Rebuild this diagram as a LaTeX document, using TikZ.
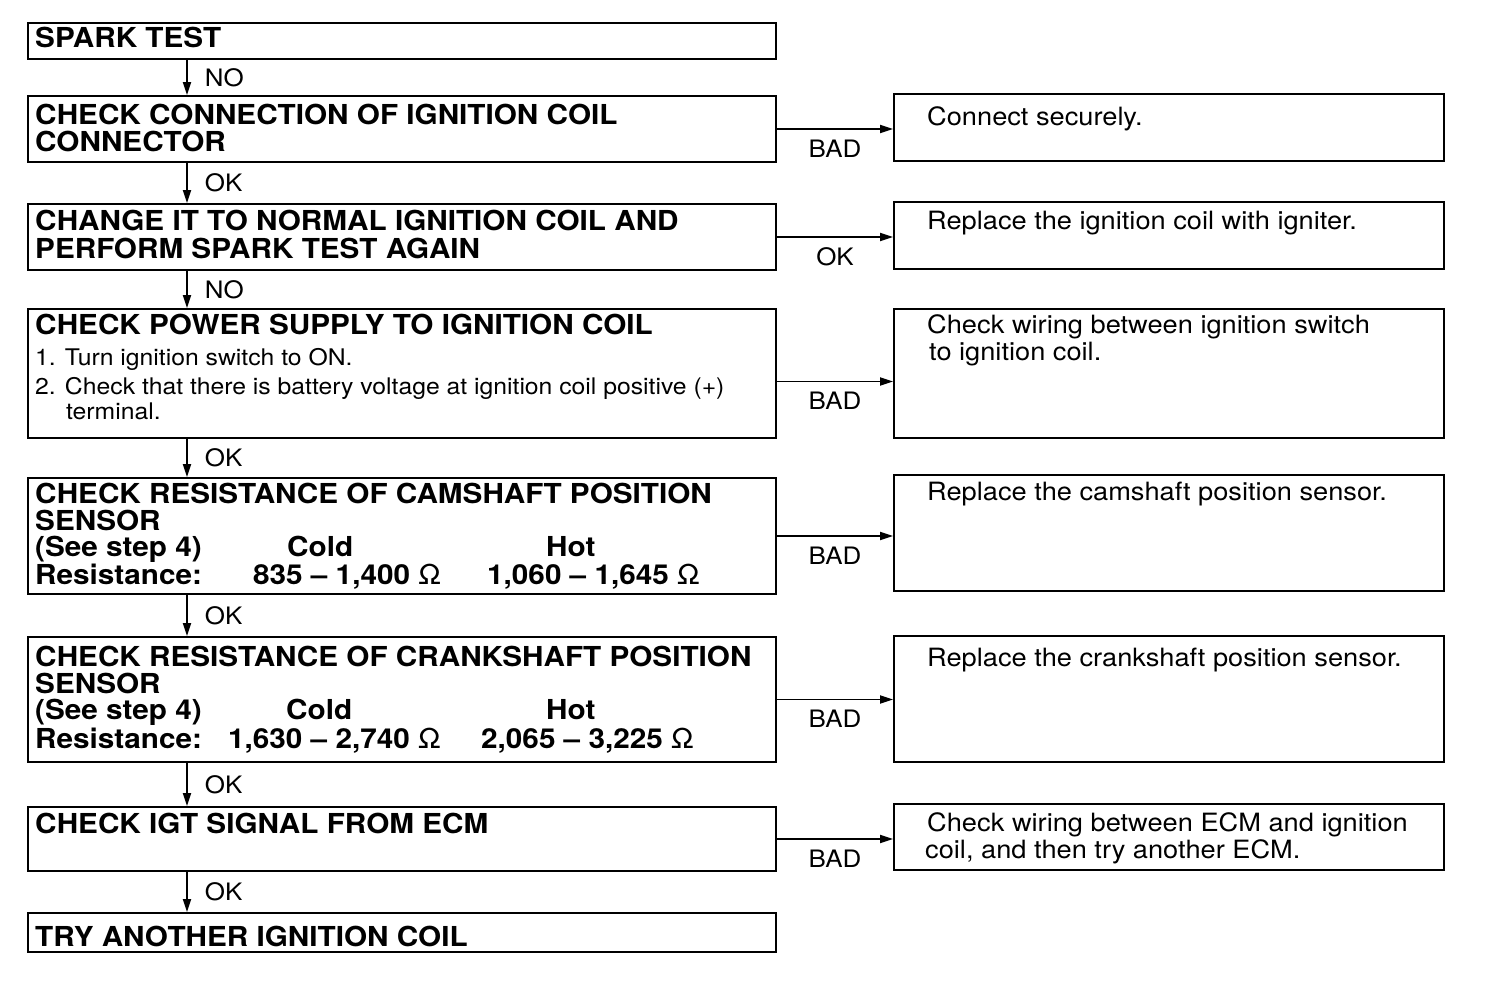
\documentclass[tikz,border=0pt]{standalone}
\usepackage{fontspec}
\setmainfont{TeX Gyre Heros}[FakeStretch=1.08]
\usetikzlibrary{arrows.meta}

\newcommand{\hdfont}{\fontsize{27.5}{28}\selectfont\bfseries}
\newcommand{\stfont}{\fontsize{22.9}{29}\selectfont}
\newcommand{\fixfont}{\fontsize{25.2}{27}\selectfont}
\newcommand{\tagfont}{\fontsize{24}{24}\selectfont}

\begin{document}
\begin{tikzpicture}[x=1pt, y=-1pt, >={Triangle[length=13pt,width=8pt]},
    lbox/.style={draw, line width=2pt, anchor=north west, inner sep=0pt, minimum width=748pt},
    rbox/.style={draw, line width=2pt, anchor=north west, inner sep=0pt, minimum width=550pt},
    head/.style={anchor=base west, inner sep=0pt, font=\hdfont},
    item/.style={anchor=base west, inner sep=0pt, font=\stfont},
    fix/.style={anchor=base west, inner sep=0pt, font=\fixfont},
    tag/.style={inner sep=0pt, font=\tagfont},
    link/.style={->, line width=1.8pt}]
    \useasboundingbox[fill=white] (0,0) rectangle (1504,982);
    \coordinate (spine) at (187,0);

    % main column
    \node[lbox, minimum height=36pt]  (b1) at (27,22)  {};
    \node[lbox, minimum height=66pt]  (b2) at (27,95)  {};
    \node[lbox, minimum height=66pt]  (b3) at (27,203) {};
    \node[lbox, minimum height=129pt] (b4) at (27,308) {};
    \node[lbox, minimum height=116pt] (b5) at (27,477) {};
    \node[lbox, minimum height=125pt] (b6) at (27,636) {};
    \node[lbox, minimum height=64pt]  (b7) at (27,806) {};
    \node[lbox, minimum height=39pt]  (b8) at (27,912) {};

    \node[head] (b1t) at (35,48) {SPARK TEST};
    \node[head] (b2t) at (35,124) {CHECK CONNECTION OF IGNITION COIL};
    \node[head] (b2u) at (35,151) {CONNECTOR};
    \node[head] (b3t) at (35,230) {CHANGE IT TO NORMAL IGNITION COIL AND};
    \node[head] (b3u) at (35,258) {PERFORM SPARK TEST AGAIN};
    \node[head] (b4t) at (35,334) {CHECK POWER SUPPLY TO IGNITION COIL};
    \node[item] (b4a) at (35,365) {1. Turn ignition switch to ON.};
    \node[item] (b4b) at (35,394) {2. Check that there is battery voltage at ignition coil positive (+)};
    \node[item] (b4c) at (66,419) {terminal.};
    \node[head] (b5t) at (35,503) {CHECK RESISTANCE OF CAMSHAFT POSITION};
    \node[head] (b5u) at (35,530) {SENSOR};
    \node[head] (b5a) at (35,556) {(See step 4)};
    \node[head] (b5b) at (287,556) {Cold};
    \node[head] (b5c) at (546,556) {Hot};
    \node[head] (b5d) at (35,584) {Resistance:};
    \node[head] (b5e) at (253,584) {835 – 1,400 {\mdseries Ω}};
    \node[head] (b5f) at (487,584) {1,060 – 1,645 {\mdseries Ω}};
    \node[head] (b6t) at (35,666) {CHECK RESISTANCE OF CRANKSHAFT POSITION};
    \node[head] (b6u) at (35,693) {SENSOR};
    \node[head] (b6a) at (35,719) {(See step 4)};
    \node[head] (b6b) at (286,719) {Cold};
    \node[head] (b6c) at (546,719) {Hot};
    \node[head] (b6d) at (35,748) {Resistance:};
    \node[head] (b6e) at (228,748) {1,630 – 2,740 {\mdseries Ω}};
    \node[head] (b6f) at (481,748) {2,065 – 3,225 {\mdseries Ω}};
    \node[head] (b7t) at (35,833) {CHECK IGT SIGNAL FROM ECM};
    \node[head] (b8t) at (35,946) {TRY ANOTHER IGNITION COIL};

    % remedies
    \node[rbox, minimum height=67pt]  (r1) at (893,93)  {};
    \node[rbox, minimum height=67pt]  (r2) at (893,201) {};
    \node[rbox, minimum height=129pt] (r3) at (893,308) {};
    \node[rbox, minimum height=116pt] (r4) at (893,474) {};
    \node[rbox, minimum height=126pt] (r5) at (893,635) {};
    \node[rbox, minimum height=66pt]  (r6) at (893,803) {};

    \node[fix] (r1t) at (927,125) {Connect securely.};
    \node[fix] (r2t) at (927,229) {Replace the ignition coil with igniter.};
    \node[fix] (r3t) at (927,333) {Check wiring between ignition switch};
    \node[fix] (r3u) at (929,360) {to ignition coil.};
    \node[fix] (r4t) at (927,500) {Replace the camshaft position sensor.};
    \node[fix] (r5t) at (927,666) {Replace the crankshaft position sensor.};
    \node[fix] (r6t) at (927,831) {Check wiring between ECM and ignition};
    \node[fix] (r6u) at (925,858) {coil, and then try another ECM.};

    \foreach \a/\b/\t in {b1/b2/NO, b2/b3/OK, b3/b4/NO, b4/b5/OK, b5/b6/OK, b6/b7/OK, b7/b8/OK}
        \draw[link] (\a.south -| spine) -- (\b.north -| spine) node[tag, midway, right=17pt] {\t};

    \foreach \a/\b/\t in {b2/r1/BAD, b3/r2/OK, b5/r4/BAD, b6/r5/BAD, b7/r6/BAD}
        \draw[link] (\a.east) -- (\a.east -| \b.west) node[tag, midway, below=10pt] {\t};
    \draw[link] ([yshift=-8pt]b4.east) -- ([yshift=-8pt]b4.east -| r3.west) node[tag, midway, below=10pt] {BAD};
\end{tikzpicture}
\end{document}
